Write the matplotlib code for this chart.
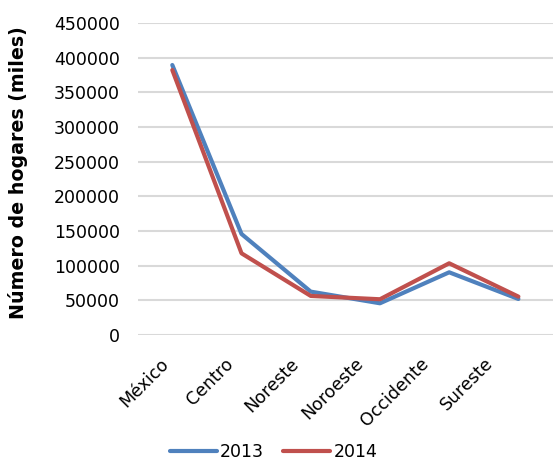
import matplotlib
matplotlib.use("Agg")
import matplotlib.pyplot as plt
from matplotlib.transforms import ScaledTranslation

regiones = ["México", "Centro", "Noreste", "Noroeste", "Occidente", "Sureste"]
hogares_2013 = [389500, 145700, 62500, 45700, 90400, 51900]
hogares_2014 = [382300, 117800, 56300, 51500, 103400, 55300]
y_ticks = list(range(0, 450001, 50000))

plt.rcParams['font.family'] = ['DejaVu Sans']

fig = plt.figure(figsize=(5.53, 4.62), dpi=100)
ax = fig.add_axes([0.249, 0.275, 0.751, 0.675])

x = range(len(regiones))
ax.plot(x, hogares_2013, color='#4F81BD', lw=3, label='2013', solid_capstyle='round')
ax.plot(x, hogares_2014, color='#C0504D', lw=3, label='2014', solid_capstyle='round')

ax.set_xlim(-0.5, len(regiones) - 0.5)
ax.set_ylim(0, 450000)
ax.set_yticks(y_ticks)
ax.set_yticklabels([str(v) for v in y_ticks], fontsize=12.5)
ax.set_xticks(list(x))
ax.set_xticklabels(regiones, fontsize=12.5, rotation=45, ha='right', rotation_mode='anchor')
ax.tick_params(axis='y', length=0, pad=13)
ax.tick_params(axis='x', length=0, pad=14)

# Excel places the rotated labels a little left of each category
for i, lab in enumerate(ax.get_xticklabels()):
    dx = -(13 + 4.2 * i) / 100.0
    lab.set_transform(lab.get_transform() + ScaledTranslation(dx, 0, fig.dpi_scale_trans))

ax.grid(axis='y', color='#D9D9D9', lw=1.5)
ax.set_axisbelow(True)
for s in ax.spines.values():
    s.set_visible(False)

ax.set_ylabel('Número de hogares (miles)', fontsize=13.7, fontweight='bold')
ax.yaxis.set_label_coords(-0.265, 0.52)

fig.legend(loc='center', bbox_to_anchor=(0.495, 0.021), ncol=2, frameon=False,
           fontsize=12.5, handlelength=2.7, handletextpad=0.2, columnspacing=1.1)

fig.savefig('out.png', dpi=100)
